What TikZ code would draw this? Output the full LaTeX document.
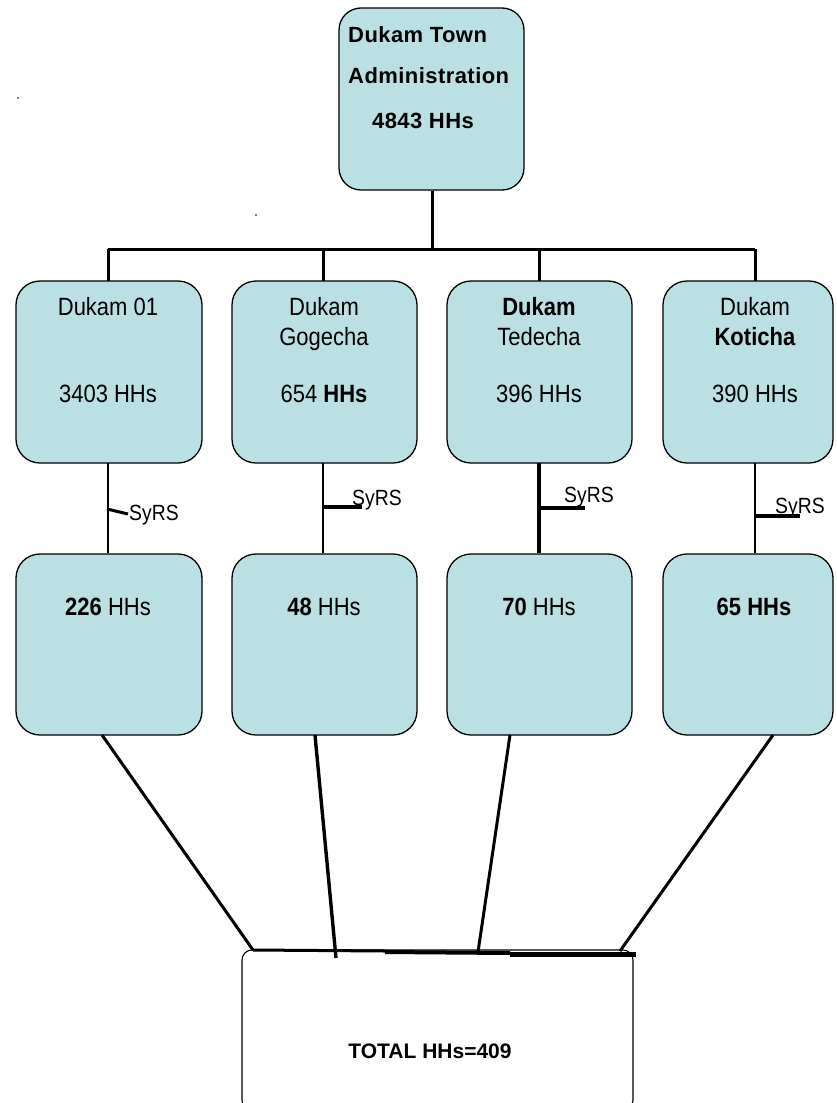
\documentclass[tikz,border=0pt]{standalone}
\usepackage{fontspec}
\setmainfont{Liberation Sans}
\newfontfamily\wideb[LetterSpace=2]{Liberation Sans}
\newfontfamily\narrowf[FakeStretch=0.88]{Liberation Sans}
\usetikzlibrary{calc}
\definecolor{boxfill}{RGB}{187,224,227}
\tikzset{
  unit/.style={draw=black, line width=1.3pt, fill=boxfill, rounded corners=24pt,
    minimum width=186pt, minimum height=182pt, inner sep=0pt},
  sumbox/.style={draw=black, line width=1.1pt, fill=white, rounded corners=10pt,
    minimum width=391pt, minimum height=160pt, inner sep=0pt},
  txt/.style={anchor=base, inner sep=0pt, font=\narrowf\fontsize{25}{29}\selectfont},
  toptxt/.style={anchor=base west, inner sep=0pt, font=\wideb\fontsize{22}{26}\selectfont\bfseries},
  tag/.style={anchor=base west, inner sep=0pt, font=\narrowf\fontsize{22}{26}\selectfont},
  link/.style={line width=3pt},
  thin link/.style={line width=2.2pt},
  tick/.style={line width=4pt},
}
\begin{document}
\begin{tikzpicture}[x=1pt,y=-1pt]
\useasboundingbox (0,0) rectangle (836,1103);
\clip (0,0) rectangle (836,1103);

% specks
\fill (18,98) circle (0.9pt);
\fill (256,215) circle (0.9pt);

% town administration
\node[unit, rounded corners=22pt, minimum width=185pt] (top) at (431.5,99) {};
\node[toptxt] (t1) at (348,42) {Dukam Town};
\node[toptxt] (t2) at (348,83) {Administration};
\node[txt, font=\wideb\fontsize{22}{26}\selectfont\bfseries] (t3) at (423,128) {4843 HHs};

% kebeles
\node[unit] (a1) at (109,372) {};
\node[unit, minimum width=185pt] (a2) at (324.5,372) {};
\node[unit, minimum width=185pt] (a3) at (539.5,372) {};
\node[unit, minimum width=170pt] (a4) at (748,372) {};

\node[txt] (a1n) at (108,315) {Dukam 01};
\node[txt] (a1h) at (108,402) {3403 HHs};
\node[txt] (a2n) at (324,315) {Dukam};
\node[txt] (a2m) at (324,345) {Gogecha};
\node[txt] (a2h) at (324,402) {654 \textbf{HHs}};
\node[txt] (a3n) at (539,315) {\textbf{Dukam}};
\node[txt] (a3m) at (539,345) {Tedecha};
\node[txt] (a3h) at (539,402) {396 HHs};
\node[txt] (a4n) at (755,315) {Dukam};
\node[txt] (a4m) at (755,345) {\textbf{Koticha}};
\node[txt] (a4h) at (755,402) {390 HHs};

% samples
\node[unit, minimum height=181pt] (b1) at (109,644.5) {};
\node[unit, minimum width=185pt, minimum height=181pt] (b2) at (324.5,644.5) {};
\node[unit, minimum width=185pt, minimum height=181pt] (b3) at (539.5,644.5) {};
\node[unit, minimum width=170pt, minimum height=181pt] (b4) at (748,644.5) {};

\node[txt] (b1h) at (108,615) {\textbf{226} HHs};
\node[txt] (b2h) at (324,615) {\textbf{48} HHs};
\node[txt] (b3h) at (539,615) {\textbf{70} HHs};
\node[txt] (b4h) at (754,615) {\textbf{65 HHs}};

% total
\node[sumbox] (tot) at (437.5,1030) {};
\node[txt, font=\fontsize{21}{25}\selectfont\bfseries] (totx) at (430,1058) {TOTAL HHs=409};

% tree from the administration to the kebeles
\coordinate (bus) at (432,249);
\coordinate (d1) at (108,281);
\coordinate (d2) at (323,281);
\coordinate (d3) at (539,281);
\coordinate (d4) at (755,281);
\draw[link] (top.south -| bus) -- (bus);
\draw[link] (d1 |- bus) -- (d4 |- bus);
\foreach \d in {d1,d2,d3,d4} \draw[link] (\d |- bus) -- (\d);

% kebele to sample links with SyRS marks
\coordinate (e1) at (108,463);
\coordinate (e2) at (323,463);
\coordinate (e3) at (539,463);
\coordinate (e4) at (755,463);
\draw[thin link] (e1) -- (e1 |- b1.north);
\draw[thin link] (e2) -- (e2 |- b2.north);
\draw[link, line width=3.6pt] (e3) -- (e3 |- b3.north);
\draw[thin link] (e4) -- (e4 |- b4.north);

\coordinate (s1) at (107,509);
\coordinate (s2) at (323,507);
\coordinate (s3) at (539,508);
\coordinate (s4) at (755,516);
\draw[tick, line width=3pt] (s1) -- (128,514);
\draw[tick] (s2) -- (362,507);
\draw[tick] (s3) -- (585,508);
\draw[tick] (s4) -- (800,516);
\node[tag] (y1) at (129,520) {SyRS};
\node[tag] (y2) at (352,505) {SyRS};
\node[tag] (y3) at (564,502) {SyRS};
\node[tag] (y4) at (775,513) {SyRS};

% samples to the total
\coordinate (j1) at (253,950);
\coordinate (j2) at (336,958);
\coordinate (j3) at (478,952);
\coordinate (j4) at (620,951);
\draw[link] (102,735) -- (j1);
\draw[link, line width=3.4pt] (315,735) -- (j2);
\draw[link] (510,735) -- (j3);
\draw[link] (773,735) -- (j4);
\draw[link] (j1) -- (385,951);
\draw[link, line width=4pt] (385,952) -- (510,953);
\draw[link, line width=5pt] (510,954) -- (636,954);
\end{tikzpicture}
\end{document}
